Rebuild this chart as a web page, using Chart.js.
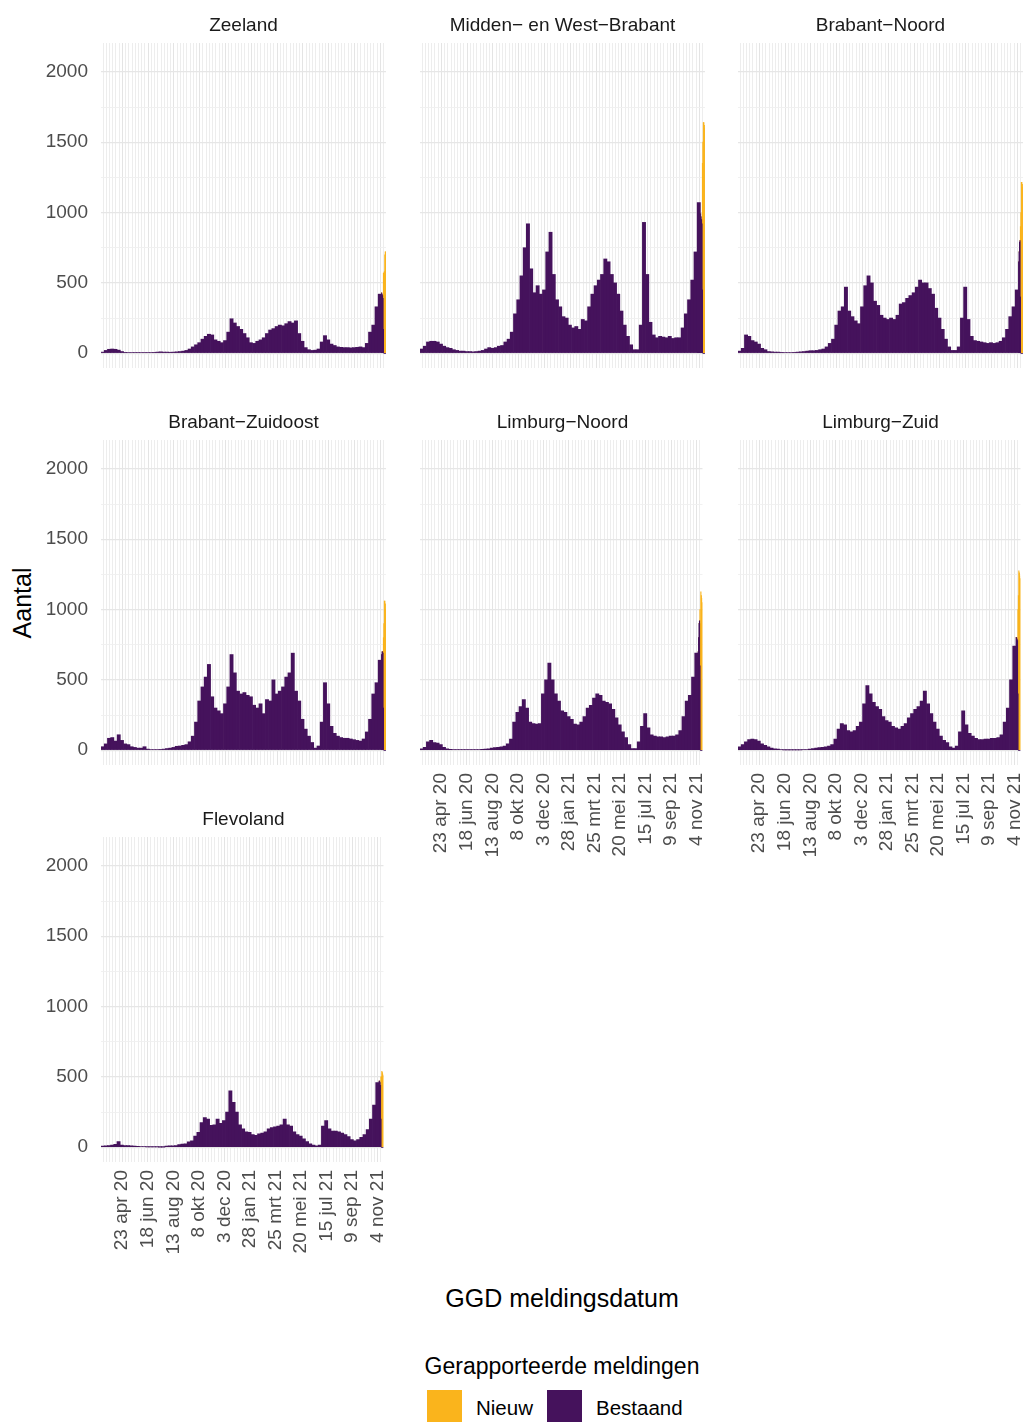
<!DOCTYPE html>
<html lang="nl">
<head>
<meta charset="utf-8">
<title>Gerapporteerde meldingen per GGD-regio</title>
<script src="https://cdn.jsdelivr.net/npm/chart.js@4.4.1/dist/chart.umd.min.js"></script>
<style>
    html, body { margin: 0; padding: 0; background: #ffffff; }
    body {
        position: relative;
        width: 1025px;
        height: 1422px;
        overflow: hidden;
        font-family: 'Liberation Sans', Arial, sans-serif;
    }
    .panel { position: absolute; }
    .strip {
        position: absolute;
        width: 285px;
        height: 24px;
        line-height: 24px;
        text-align: center;
        font-size: 19px;
        color: #1a1a1a;
        white-space: nowrap;
        z-index: 2;
    }
    .as-title {
        position: absolute;
        font-size: 25px;
        color: #000;
        white-space: nowrap;
        transform: translate(-50%, -50%);
    }
    #titel-y { left: 22px; top: 603px; transform: translate(-50%, -50%) rotate(-90deg); }
    #titel-x { left: 562px; top: 1298px; }
    #legenda-titel { left: 562px; top: 1366px; font-size: 23px; }
    .sleutel { position: absolute; top: 1390px; width: 35px; height: 35px; }
    .sleutel-tekst {
        position: absolute;
        top: 1408px;
        transform: translateY(-50%);
        font-size: 20.5px;
        color: #000;
        white-space: nowrap;
    }
</style>
</head>
<body>

<div class="as-title" id="titel-y">Aantal</div>
<div class="as-title" id="titel-x">GGD meldingsdatum</div>
<div class="as-title" id="legenda-titel">Gerapporteerde meldingen</div>
<div class="sleutel" style="left: 427px; background: #fab41c;"></div>
<div class="sleutel-tekst" style="left: 476px;">Nieuw</div>
<div class="sleutel" style="left: 547px; background: #45125c;"></div>
<div class="sleutel-tekst" style="left: 596px;">Bestaand</div>

<script>
// Dagen geteld vanaf 23 apr 2020 (= dag 0)
const tickDays = [0, 56, 112, 168, 224, 280, 336, 392, 448, 504, 560];
const tickLabels = ['23 apr 20', '18 jun 20', '13 aug 20', '8 okt 20', '3 dec 20', '28 jan 21',
                    '25 mrt 21', '20 mei 21', '15 jul 21', '9 sep 21', '4 nov 21'];
const yTicks = [0, 250, 500, 750, 1000, 1250, 1500, 1750, 2000];

// Weken (midden van de week) en de laatste losse dagen
const weekDays = [];
for (let k = 0; k < 87; k++) weekDays.push(-43 + 7 * k);
const lastDays = [563, 564, 565, 566, 567, 568, 569, 570, 571, 572];

// Zeeland
const zeelandWeek = [
    8, 20, 28, 30, 28, 22, 12, 6, 5, 5,
    4, 4, 5, 4, 4, 4, 6, 8, 10, 8,
    8, 7, 8, 10, 12, 15, 20, 30, 45, 60,
    75, 100, 120, 135, 130, 95, 85, 75, 90, 150,
    245, 215, 190, 170, 140, 110, 75, 70, 85, 95,
    110, 140, 165, 175, 190, 200, 195, 210, 225, 215,
    230, 140, 85, 40, 25, 20, 22, 30, 80, 125,
    95, 65, 55, 45, 42, 40, 40, 38, 40, 42,
    45, 40, 70, 150, 200, 330, 420
];
const zeelandDagBestaand = [430, 420, 410, 390, 170, 0, 0, 0, 0, 0];
const zeelandDagNieuw = [0, 0, 0, 0, 400, 570, 580, 700, 720, 720];

// Midden- en West-Brabant
const mwbWeek = [
    30, 50, 80, 85, 85, 80, 65, 50, 40, 35,
    25, 20, 15, 15, 12, 12, 10, 12, 15, 20,
    30, 40, 35, 40, 50, 55, 80, 100, 150, 280,
    380, 550, 750, 920, 600, 430, 480, 420, 450, 720,
    860, 560, 380, 330, 260, 250, 200, 180, 190, 170,
    240, 230, 330, 420, 480, 520, 560, 670, 650, 560,
    500, 420, 300, 200, 120, 60, 25, 25, 200, 930,
    560, 220, 130, 110, 120, 115, 110, 120, 105, 110,
    110, 180, 280, 380, 520, 720, 1070
];
const mwbDagBestaand = [990, 970, 950, 920, 450, 0, 0, 0, 0, 0];
const mwbDagNieuw = [0, 0, 0, 0, 900, 1500, 1640, 1640, 1620, 1600];

// Brabant-Noord
const bnWeek = [
    15, 35, 130, 120, 90, 80, 65, 35, 25, 12,
    10, 8, 8, 6, 5, 5, 5, 6, 8, 10,
    12, 15, 18, 18, 20, 25, 30, 45, 70, 100,
    200, 300, 330, 470, 300, 260, 230, 210, 330, 480,
    550, 500, 370, 340, 270, 250, 240, 250, 240, 270,
    350, 360, 390, 410, 430, 470, 520, 500, 500, 460,
    420, 320, 250, 170, 100, 45, 20, 20, 45, 250,
    470, 240, 120, 90, 85, 80, 75, 70, 75, 70,
    75, 85, 110, 170, 260, 330, 450
];
const bnDagBestaand = [650, 720, 790, 800, 400, 0, 0, 0, 0, 0];
const bnDagNieuw = [0, 0, 0, 0, 500, 1000, 1215, 1215, 1200, 1180];

// Brabant-Zuidoost
const bzoWeek = [
    25, 45, 85, 90, 65, 110, 70, 45, 40, 25,
    20, 15, 15, 25, 8, 5, 5, 5, 6, 8,
    12, 15, 20, 28, 30, 35, 40, 60, 100, 200,
    350, 450, 520, 610, 380, 300, 280, 260, 330, 450,
    680, 550, 420, 400, 410, 390, 380, 320, 300, 330,
    260, 360, 350, 500, 400, 420, 450, 520, 550, 690,
    420, 350, 220, 150, 100, 55, 15, 30, 200, 480,
    330, 170, 120, 100, 90, 85, 85, 80, 75, 70,
    65, 80, 130, 220, 400, 480, 640
];
const bzoDagBestaand = [680, 700, 700, 690, 300, 0, 0, 0, 0, 0];
const bzoDagNieuw = [0, 0, 0, 0, 500, 900, 1060, 1060, 1040, 1000];

// Limburg-Noord
const lnWeek = [
    10, 20, 60, 70, 55, 50, 40, 20, 10, 6,
    5, 5, 4, 4, 4, 4, 4, 5, 5, 6,
    8, 10, 15, 18, 20, 25, 30, 45, 80, 200,
    270, 310, 360, 300, 200, 190, 185, 190, 400, 500,
    620, 500, 400, 350, 280, 270, 240, 220, 185, 180,
    200, 240, 300, 320, 370, 400, 390, 350, 340, 330,
    290, 230, 180, 130, 90, 40, 12, 12, 60, 170,
    260, 160, 110, 100, 95, 95, 90, 95, 100, 100,
    110, 140, 240, 350, 390, 520, 690
];
const lnDagBestaand = [700, 800, 900, 920, 600, 0, 0, 0, 0, 0];
const lnDagNieuw = [0, 0, 0, 0, 400, 900, 1126, 1100, 1080, 1050];

// Limburg-Zuid
const lzWeek = [
    25, 40, 60, 75, 80, 75, 65, 45, 35, 25,
    15, 10, 8, 5, 3, 3, 3, 3, 3, 3,
    4, 5, 8, 12, 15, 18, 20, 25, 30, 40,
    80, 150, 190, 180, 140, 130, 140, 170, 200, 330,
    460, 400, 340, 310, 290, 240, 210, 200, 170, 160,
    150, 170, 190, 230, 260, 290, 310, 350, 420, 330,
    260, 200, 150, 100, 70, 55, 25, 15, 30, 130,
    280, 180, 120, 100, 85, 75, 75, 80, 80, 85,
    85, 90, 110, 200, 300, 500, 740
];
const lzDagBestaand = [800, 800, 790, 780, 400, 0, 0, 0, 0, 0];
const lzDagNieuw = [0, 0, 0, 0, 600, 1100, 1275, 1260, 1240, 1220];

// Flevoland
const flevoWeek = [
    8, 10, 12, 15, 20, 40, 15, 12, 12, 10,
    8, 6, 5, 4, 3, 3, 3, 2, 1, 1,
    8, 10, 10, 12, 18, 22, 25, 38, 45, 80,
    105, 175, 210, 200, 155, 160, 200, 170, 190, 250,
    400, 320, 250, 160, 130, 110, 105, 90, 85, 95,
    100, 110, 130, 140, 145, 150, 160, 200, 160, 150,
    110, 90, 80, 60, 40, 25, 15, 10, 15, 150,
    190, 130, 115, 115, 110, 100, 90, 75, 55, 45,
    55, 70, 90, 125, 200, 300, 460
];
const flevoDagBestaand = [470, 470, 460, 440, 200, 0, 0, 0, 0, 0];
const flevoDagNieuw = [0, 0, 0, 0, 300, 500, 539, 530, 520, 510];

// Opmaak
const paars = '#45125c';
const oranje = '#fab41c';
const plotLeft = [101, 420, 738];
const plotTop = [43, 440, 837];
const plotWidth = 285;
const plotHeight = 325;
const pad = 26;
const xMin = -46.5, xMax = 572.5;
const yMin = -105, yMax = 2205;

Chart.defaults.font.family = "'Liberation Sans', Arial, sans-serif";

document.addEventListener('DOMContentLoaded', function() {
    const panels = [
        { name: 'Zeeland', col: 0, row: 0, bottom: false, week: zeelandWeek, dagB: zeelandDagBestaand, dagN: zeelandDagNieuw },
        { name: 'Midden\u2212 en West\u2212Brabant', col: 1, row: 0, bottom: false, week: mwbWeek, dagB: mwbDagBestaand, dagN: mwbDagNieuw },
        { name: 'Brabant\u2212Noord', col: 2, row: 0, bottom: false, week: bnWeek, dagB: bnDagBestaand, dagN: bnDagNieuw },
        { name: 'Brabant\u2212Zuidoost', col: 0, row: 1, bottom: false, week: bzoWeek, dagB: bzoDagBestaand, dagN: bzoDagNieuw },
        { name: 'Limburg\u2212Noord', col: 1, row: 1, bottom: true, week: lnWeek, dagB: lnDagBestaand, dagN: lnDagNieuw },
        { name: 'Limburg\u2212Zuid', col: 2, row: 1, bottom: true, week: lzWeek, dagB: lzDagBestaand, dagN: lzDagNieuw },
        { name: 'Flevoland', col: 0, row: 2, bottom: true, week: flevoWeek, dagB: flevoDagBestaand, dagN: flevoDagNieuw }
    ];

    panels.forEach(createPanel);
});

function createPanel(panel) {
    const showY = panel.col === 0;
    const yW = showY ? 101 : 0;
    const padLeft = showY ? 0 : 16;   // ruimte voor de eerste x-label zonder het plotvlak te verschuiven
    const xH = panel.bottom ? 110 : 0;
    const width = padLeft + yW + plotWidth + pad;
    const height = pad + plotHeight + (panel.bottom ? xH : pad);

    const wrap = document.createElement('div');
    wrap.className = 'panel';
    wrap.style.left = (plotLeft[panel.col] - yW - padLeft) + 'px';
    wrap.style.top = (plotTop[panel.row] - pad) + 'px';
    const canvas = document.createElement('canvas');
    canvas.width = width;
    canvas.height = height;
    canvas.style.width = width + 'px';
    canvas.style.height = height + 'px';
    wrap.appendChild(canvas);
    document.body.appendChild(wrap);

    // Facet-titel boven het paneel
    const strip = document.createElement('div');
    strip.className = 'strip';
    strip.textContent = panel.name;
    strip.style.left = plotLeft[panel.col] + 'px';
    strip.style.top = (plotTop[panel.row] - 30) + 'px';
    document.body.appendChild(strip);

    const dayPx = plotWidth / (xMax - xMin);

    new Chart(canvas.getContext('2d'), {
        type: 'bar',
        data: {
            datasets: [
                {
                    label: 'Bestaand',
                    data: weekDays.map((d, i) => ({ x: d, y: panel.week[i] })),
                    backgroundColor: paars,
                    barThickness: 7 * dayPx
                },
                {
                    label: 'Bestaand',
                    data: lastDays.map((d, i) => ({ x: d, y: panel.dagB[i] })),
                    backgroundColor: paars,
                    barThickness: dayPx
                },
                {
                    label: 'Nieuw',
                    data: lastDays.map((d, i) => ({ x: d, y: panel.dagN[i] })),
                    backgroundColor: oranje,
                    barThickness: dayPx
                }
            ]
        },
        options: {
            responsive: false,
            animation: false,
            events: [],
            layout: { padding: { top: pad, right: pad, bottom: panel.bottom ? 0 : pad, left: padLeft } },
            plugins: {
                legend: { display: false },
                tooltip: { enabled: false }
            },
            scales: {
                x: {
                    type: 'linear',
                    stacked: true,
                    offset: false,
                    min: xMin,
                    max: xMax,
                    border: { display: false },
                    grid: {
                        offset: false,
                        drawTicks: false,
                        color: function(ctx) {
                            return ctx.tick && tickDays.includes(ctx.tick.value) ? '#e4e4e4' : '#ededed';
                        },
                        lineWidth: 1
                    },
                    afterBuildTicks: function(scale) {
                        const ticks = [];
                        for (let d = -42; d <= 567; d += 7) ticks.push({ value: d });
                        scale.ticks = ticks;
                    },
                    afterFit: function(scale) {
                        scale.height = xH;
                    },
                    ticks: {
                        display: panel.bottom,
                        autoSkip: false,
                        minRotation: 90,
                        maxRotation: 90,
                        padding: 8,
                        color: '#4d4d4d',
                        font: { size: 19 },
                        callback: function(value) {
                            const i = tickDays.indexOf(value);
                            return i >= 0 ? tickLabels[i] : '';
                        }
                    }
                },
                y: {
                    stacked: true,
                    min: yMin,
                    max: yMax,
                    border: { display: false },
                    grid: {
                        drawTicks: false,
                        color: function(ctx) {
                            return ctx.tick && ctx.tick.value % 500 === 0 ? '#e6e6e6' : '#efefef';
                        },
                        lineWidth: function(ctx) {
                            return ctx.tick && ctx.tick.value % 500 === 0 ? 1.3 : 0.9;
                        }
                    },
                    afterBuildTicks: function(scale) {
                        scale.ticks = yTicks.map(v => ({ value: v }));
                    },
                    afterFit: function(scale) {
                        scale.width = yW;
                    },
                    ticks: {
                        display: showY,
                        padding: 13,
                        color: '#4d4d4d',
                        font: { size: 19 },
                        callback: function(value) {
                            return value % 500 === 0 ? String(value) : '';
                        }
                    }
                }
            }
        }
    });
}
</script>
</body>
</html>
